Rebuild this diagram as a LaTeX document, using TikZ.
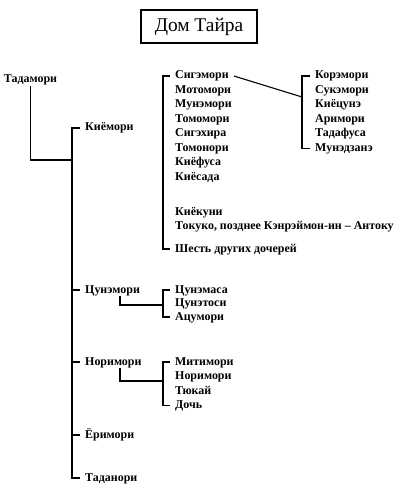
\documentclass[tikz,border=0pt]{standalone}
\usepackage{fontspec}
\setmainfont{Liberation Serif}
\begin{document}
\begin{tikzpicture}[x=1bp,y=-1bp,
  person/.style={anchor=west, inner xsep=5bp, inner ysep=0pt, text height=8.5bp, text depth=2.5bp, font=\bfseries\fontsize{12}{14}\selectfont},
  conn/.style={line width=1.1bp, line join=miter}]
\useasboundingbox (0,0) rectangle (400,498);
\node[draw, line width=1.1bp, minimum width=116bp, minimum height=33bp, inner sep=0pt, font=\fontsize{19.5}{22}\selectfont] (title) at (199,26.5) {Дом Тайра};
% generation 1
\node[person, anchor=center, inner xsep=0pt] (tadamori) at (30.5,80) {Тадамори};
% generation 2
\node[person] (kiyomori) at (80,128) {Киёмори};
\node[person] (tsunemori) at (80,290) {Цунэмори};
\node[person] (norimori) at (80,362) {Норимори};
\node[person] (yorimori) at (80,435) {Ёримори};
\node[person] (tadanori) at (80,478) {Таданори};
% Kiyomori's children
\node[person] (sigemori) at (170,76) {Сигэмори};
\node[person] (motomori) at (170,90.5) {Мотомори};
\node[person] (munemori) at (170,105) {Мунэмори};
\node[person] (tomomori) at (170,119.5) {Томомори};
\node[person] (sigehira) at (170,134) {Сигэхира};
\node[person] (tomonori) at (170,148.5) {Томонори};
\node[person] (kiyofusa) at (170,163) {Киёфуса};
\node[person] (kiyosada) at (170,177.5) {Киёсада};
\node[person] (kiyokuni) at (170,212) {Киёкуни};
\node[person] (tokuko) at (170,226) {Токуко, позднее Кэнрэймон-ин – Антоку};
\node[person] (shest) at (170,249) {Шесть других дочерей};
% Sigemori's children
\node[person] (koremori) at (310,76) {Корэмори};
\node[person] (sukemori) at (310,90.5) {Сукэмори};
\node[person] (kiyotsune) at (310,105) {Киёцунэ};
\node[person] (arimori) at (310,119.5) {Аримори};
\node[person] (tadafusa) at (310,134) {Тадафуса};
\node[person] (munedzane) at (310,148.5) {Мунэдзанэ};
% Tsunemori's children
\node[person] (tsunemasa) at (170,290) {Цунэмаса};
\node[person] (tsunetosi) at (170,303.5) {Цунэтоси};
\node[person] (atsumori) at (170,317) {Ацумори};
% Norimori's children
\node[person] (mitimori) at (170,362) {Митимори};
\node[person] (norimori2) at (170,376.5) {Норимори};
\node[person] (tyukai) at (170,391) {Тюкай};
\node[person] (doch) at (170,405.5) {Дочь};
% coordinates
\coordinate (trunkJ) at (72,160);
\coordinate (trunkB) at (72,478);
\coordinate (b1) at (163,249);
\coordinate (b2) at (302,148.5);
\coordinate (b2j) at (302,97);
\coordinate (tsj) at (120,305);
\coordinate (tsb) at (163,305);
\coordinate (tsbot) at (163,317);
\coordinate (nj) at (120,381);
\coordinate (nb) at (163,381);
\coordinate (nbot) at (163,405.5);
% connectors
\draw[conn] (tadamori.south) |- (trunkJ);
\draw[conn] (kiyomori.west) -| (trunkB) -- (tadanori.west);
\draw[conn] (tsunemori.west -| trunkB) -- (tsunemori.west);
\draw[conn] (norimori.west -| trunkB) -- (norimori.west);
\draw[conn] (yorimori.west -| trunkB) -- (yorimori.west);
\draw[conn] (sigemori.west) -| (b1) -- (shest.west);
\draw[conn] (sigemori.east) -- (b2j);
\draw[conn] (koremori.west) -| (b2) -- (munedzane.west);
\draw[conn] (tsunemori.south -| tsj) -- (tsj) -- (tsb);
\draw[conn] (tsunemasa.west) -| (tsbot) -- (atsumori.west);
\draw[conn] (norimori.south -| nj) -- (nj) -- (nb);
\draw[conn] (mitimori.west) -| (nbot) -- (doch.west);
\end{tikzpicture}
\end{document}
